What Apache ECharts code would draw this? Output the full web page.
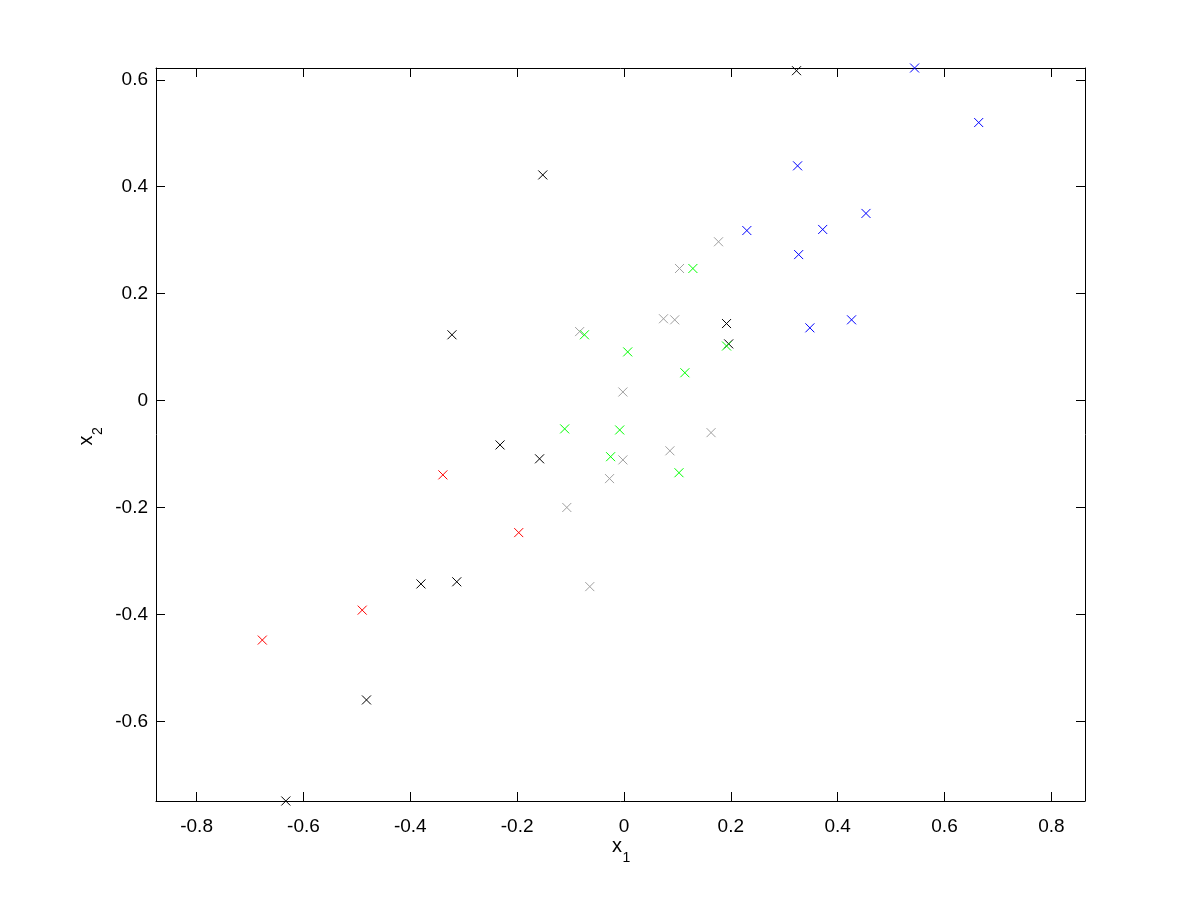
<!DOCTYPE html>
<html><head><meta charset="utf-8">
<script src="https://cdn.jsdelivr.net/npm/echarts@6/dist/echarts.min.js"></script>
<style>html,body{margin:0;padding:0;background:#fff}#c{width:1200px;height:900px}</style>
</head><body><div id="c"></div>
<script>
// data (x1, x2)
const bluePts = [[0.544,0.622],[0.664,0.520],[0.325,0.439],[0.453,0.350],[0.230,0.318],[0.372,0.320],[0.327,0.273],[0.426,0.151],[0.348,0.136]];
const greenPts = [[0.129,0.247],[-0.074,0.123],[0.007,0.091],[0.114,0.052],[0.192,0.102],[-0.111,-0.053],[-0.008,-0.055],[-0.025,-0.105],[0.103,-0.135]];
const redPts = [[-0.677,-0.448],[-0.490,-0.392],[-0.339,-0.139],[-0.197,-0.247]];
const blackPts = [[0.323,0.617],[-0.152,0.422],[-0.322,0.123],[0.192,0.144],[0.196,0.106],[-0.232,-0.083],[-0.158,-0.109],[-0.380,-0.343],[-0.313,-0.339],[-0.482,-0.560],[-0.633,-0.749]];
const grayPts = [[0.177,0.297],[0.104,0.247],[-0.083,0.129],[0.074,0.153],[0.095,0.151],[-0.002,0.016],[-0.002,-0.111],[0.086,-0.094],[0.163,-0.060],[-0.027,-0.146],[-0.107,-0.200],[-0.064,-0.348]];
const xRange = [-0.876, 0.863];
const yRange = [-0.749, 0.622];
const xLabel = ['x', '1'];
const yLabel = ['x', '2'];

const FONT = '"Liberation Sans", Arial, Helvetica, sans-serif';
const chart = echarts.init(document.getElementById('c'), null, {renderer: 'canvas'});
const X_SYM = 'path://M0,0L10,10M10,0L0,10';
function mk(name, data, color) {
  return {
    name, type: 'scatter', data, xAxisIndex: 0, yAxisIndex: 0,
    symbol: X_SYM, symbolSize: 9, clip: false,
    itemStyle: {color: 'rgba(0,0,0,0)', borderColor: color, borderWidth: 1, opacity: 1},
    emphasis: {disabled: true}, silent: true
  };
}
const axisBase = {
  type: 'value', scale: true, splitNumber: 8, minInterval: 0.2, maxInterval: 0.2,
  splitLine: {show: false},
  axisLine: {show: true, onZero: false, lineStyle: {color: '#000', width: 1}},
  axisTick: {show: true, inside: true, length: 9, lineStyle: {color: '#000', width: 1}},
};
const lab = {color: '#000', fontSize: 19, fontFamily: FONT, showMinLabel: false, showMaxLabel: false};
// axis title made of a main letter and a lowered subscript
function subLabel(parts, x, y, rot) {
  return {
    type: 'group', x, y, rotation: rot, silent: true,
    children: [
      {type: 'text', x: 0, y: -7, style: {text: parts[0], fontSize: 20, fontFamily: FONT, fill: '#000', align: 'center', verticalAlign: 'middle'}},
      {type: 'text', x: 9.5, y: 5, style: {text: parts[1], fontSize: 14, fontFamily: FONT, fill: '#000', align: 'center', verticalAlign: 'middle'}}
    ]
  };
}
chart.setOption({
  animation: false,
  backgroundColor: '#fff',
  grid: {left: 156, top: 68, right: 115, bottom: 99, containLabel: false},
  xAxis: [
    Object.assign({}, axisBase, {position: 'bottom', min: xRange[0], max: xRange[1],
      axisLabel: Object.assign({}, lab, {margin: 16})}),
    Object.assign({}, axisBase, {position: 'top', min: xRange[0], max: xRange[1], axisLabel: {show: false}})
  ],
  yAxis: [
    Object.assign({}, axisBase, {position: 'left', min: yRange[0], max: yRange[1],
      axisLabel: Object.assign({}, lab, {margin: 8})}),
    Object.assign({}, axisBase, {position: 'right', min: yRange[0], max: yRange[1], axisLabel: {show: false}})
  ],
  graphic: [
    subLabel(xLabel, 617, 853, 0),
    subLabel(yLabel, 93, 440.5, Math.PI / 2)
  ],
  series: [
    mk('gray', grayPts, '#a0a0a0'),
    mk('black', blackPts, '#000000'),
    mk('red', redPts, '#ff0000'),
    mk('green', greenPts, '#00ff00'),
    mk('blue', bluePts, '#0000ff')
  ]
});
</script>
</body></html>
